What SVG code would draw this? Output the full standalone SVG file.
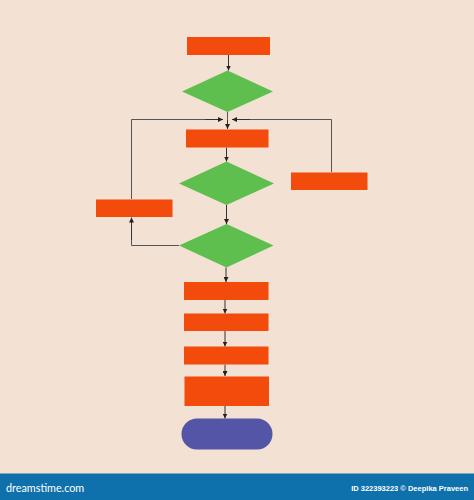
<svg xmlns="http://www.w3.org/2000/svg" width="474" height="500" viewBox="0 0 474 500">
<defs>
<marker id="ah" viewBox="0 0 10 10" refX="10" refY="5" markerWidth="5" markerHeight="5" orient="auto" markerUnits="userSpaceOnUse">
<path d="M0,0 L10,5 L0,10 z" fill="#222"/>
</marker>
</defs>
<style>
.proc{fill:#f24b0c;}
.dec{fill:#5ebf4f;}
.term{fill:#5555a8;}
.ln{fill:none;stroke:#555;stroke-width:1;}
.arr{fill:none;stroke:#333;stroke-width:1;marker-end:url(#ah);}
</style>
<rect width="474" height="500" fill="#f3e1d3"/>
<g id="connectors">
<path class="arr" d="M228.5,55 V70.5"/>
<path class="ln" d="M227.5,112 V119.5"/>
<path class="arr" d="M227.5,119.5 V129"/>
<path class="ln" d="M131.5,199 V119.5 H218"/>
<path class="arr" d="M205,119.5 H223"/>
<path class="ln" d="M331.5,172 V119.5 H236"/>
<path class="arr" d="M250,119.5 H232"/>
<path class="arr" d="M226.5,147.5 V161.5"/>
<path class="arr" d="M226.5,205 V224"/>
<path class="ln" d="M179,245.5 H131.5 V225"/>
<path class="arr" d="M131.5,240 V217.5"/>
<path class="arr" d="M226,267.5 V282"/>
<path class="arr" d="M225,300 V313.5"/>
<path class="arr" d="M225,331 V346.5"/>
<path class="arr" d="M225,364.5 V376"/>
<path class="arr" d="M225,406 V418.5"/>
</g>
<g id="n1"><rect class="proc" x="187" y="37" width="83" height="18"/></g>
<g id="n2"><polygon class="dec" points="182,91.5 227.5,70.5 273,91.5 227.5,112"/></g>
<g id="n3"><rect class="proc" x="186" y="129.5" width="82.5" height="18"/></g>
<g id="n4"><polygon class="dec" points="179,183.5 226.5,161.5 274,183.5 226.5,205"/></g>
<g id="n5"><rect class="proc" x="291" y="172.5" width="76.5" height="17.5"/></g>
<g id="n6"><rect class="proc" x="96" y="199.5" width="76.5" height="17.5"/></g>
<g id="n7"><polygon class="dec" points="179,245.5 226.5,224 273.5,245.5 226.5,267.5"/></g>
<g id="n8"><rect class="proc" x="184" y="282" width="84.5" height="18"/></g>
<g id="n9"><rect class="proc" x="184" y="313.5" width="84.5" height="17.5"/></g>
<g id="n10"><rect class="proc" x="184" y="346.5" width="84.5" height="18"/></g>
<g id="n11"><rect class="proc" x="184.5" y="376.5" width="84.5" height="29.5"/></g>
<g id="n12"><rect class="term" x="181.5" y="418.5" width="91" height="31" rx="15.5" ry="15.5"/></g>
<g id="footer">
<rect x="0" y="473.5" width="474" height="26.5" fill="#0f71ab"/>
<text x="6" y="492" font-family="Lato, 'DejaVu Sans', sans-serif" font-size="10.8" fill="#ffffff">dreamstime.com</text>
<text x="468" y="491" text-anchor="end" font-family="'Liberation Sans', Arial, sans-serif" font-weight="bold" font-size="7.5" fill="#ffffff">ID 322393223 © Deepika Praveen</text>
</g>
</svg>
